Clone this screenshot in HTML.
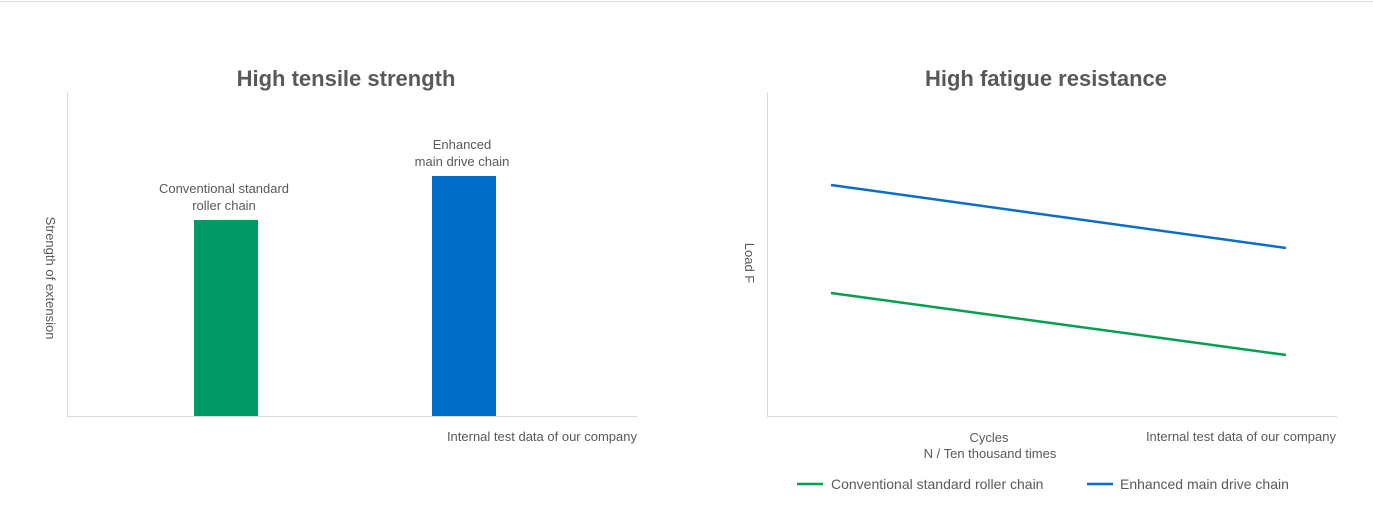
<!DOCTYPE html>
<html><head><meta charset="utf-8"><style>
body{margin:0;background:#fff;width:1373px;height:508px;overflow:hidden;font-family:"Liberation Sans",sans-serif}
svg text{fill:#595959;font-family:"Liberation Sans",sans-serif}
</style></head><body>
<svg width="1373" height="508">
<line x1="0" y1="1.5" x2="1373" y2="1.5" stroke="#ddd"/>
<g id="left">
<text x="346" y="86" font-size="22" font-weight="bold" text-anchor="middle">High tensile strength</text>
<line x1="67.5" y1="92" x2="67.5" y2="416" stroke="#d9d9d9"/>
<line x1="67" y1="416.5" x2="637" y2="416.5" stroke="#d9d9d9"/>
<text transform="translate(46,278) rotate(90)" font-size="13" text-anchor="middle">Strength of extension</text>
<text x="637" y="441" font-size="13" text-anchor="end">Internal test data of our company</text>
</g>
<g id="right">
<text x="1046" y="86" font-size="22" font-weight="bold" text-anchor="middle">High fatigue resistance</text>
<line x1="767.5" y1="92" x2="767.5" y2="416" stroke="#d9d9d9"/>
<line x1="767" y1="416.5" x2="1337" y2="416.5" stroke="#d9d9d9"/>
<text transform="translate(745,263) rotate(90)" font-size="13" text-anchor="middle">Load F</text>
<text x="989" y="442" font-size="13" text-anchor="middle">Cycles</text>
<text x="990" y="458" font-size="13" text-anchor="middle">N / Ten thousand times</text>
<text x="1336" y="441" font-size="13" text-anchor="end">Internal test data of our company</text>
<line x1="797" y1="484" x2="823" y2="484" stroke="#00a050" stroke-width="2.5"/>
<text x="831" y="489" font-size="14">Conventional standard roller chain</text>
<line x1="1087" y1="484" x2="1113" y2="484" stroke="#0a6ec8" stroke-width="2.5"/>
<text x="1120" y="489" font-size="14">Enhanced main drive chain</text>
</g>
</svg>
<script>
const barCategories=["Conventional standard\nroller chain","Enhanced\nmain drive chain"];
const barValues=[196,240];
const barColors=["#009966","#006ec8"];
const lineSeriesNames=["Conventional standard roller chain","Enhanced main drive chain"];
const conventionalLoad=[123,61];
const enhancedLoad=[231,168];
const yMax=324;
const NS="http://www.w3.org/2000/svg";
function ly(v){return 416-v/yMax*324;}
function lx(i){return 226+i*238;}
const L=document.getElementById('left');
barValues.forEach((v,i)=>{
 const r=document.createElementNS(NS,'rect');
 r.setAttribute('x',lx(i)-32);r.setAttribute('y',ly(v));r.setAttribute('width',64);r.setAttribute('height',416-ly(v));
 r.setAttribute('fill',barColors[i]);
 
 
 L.appendChild(r);
 barCategories[i].split('\n').forEach((s,k,a)=>{
  const t=document.createElementNS(NS,'text');
  t.setAttribute('x',lx(i)+(i?-2:-2));t.setAttribute('y',ly(v)-10-(a.length-1-k)*17);
  t.setAttribute('font-size','13');t.setAttribute('text-anchor','middle');t.textContent=s;
  
  
  L.appendChild(t);
 });
});
function rx(i,n){return 831+i*(1286-831)/(n-1);}
const R=document.getElementById('right');
[[conventionalLoad,"#00a050","line-conventional"],[enhancedLoad,"#0a6ec8","line-enhanced"]].forEach(([d,c,n])=>{
 const p=document.createElementNS(NS,'polyline');
 p.setAttribute('points',d.map((v,i)=>rx(i,d.length)+','+ly(v)).join(' '));
 p.setAttribute('fill','none');p.setAttribute('stroke',c);p.setAttribute('stroke-width','2.5');
 
 
 R.appendChild(p);
});
</script>
</body></html>
